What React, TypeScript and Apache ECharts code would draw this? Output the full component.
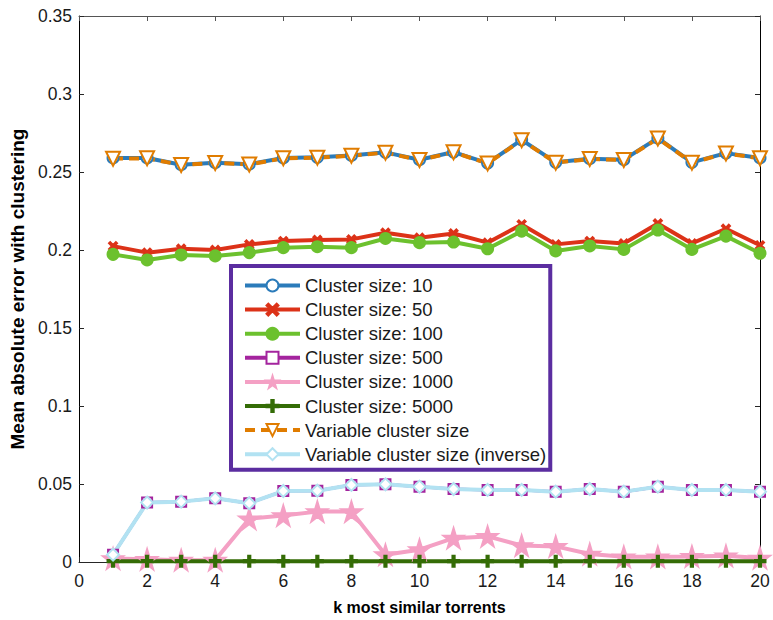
import React, { useEffect, useRef } from "react";
import * as echarts from "echarts";

// k values (x axis)
const kValues = [1, 2, 3, 4, 5, 6, 7, 8, 9, 10, 11, 12, 13, 14, 15, 16, 17, 18, 19, 20];

// Mean absolute error per cluster size
const size10 = [0.259, 0.259, 0.2547, 0.256, 0.255, 0.259, 0.2594, 0.2606, 0.2626, 0.2579, 0.2628, 0.2557, 0.2706, 0.2562, 0.2585, 0.2579, 0.2717, 0.2562, 0.2621, 0.259];
const size50 = [0.2025, 0.1983, 0.2008, 0.2, 0.2036, 0.2057, 0.2064, 0.2068, 0.2111, 0.2079, 0.2106, 0.2047, 0.2164, 0.2036, 0.2057, 0.2042, 0.217, 0.2042, 0.2136, 0.203];
const size100 = [0.1972, 0.1936, 0.1968, 0.1962, 0.1983, 0.2015, 0.2021, 0.2015, 0.2074, 0.2047, 0.2051, 0.2008, 0.2121, 0.1994, 0.2026, 0.2004, 0.2128, 0.2004, 0.2089, 0.1979];
const size500 = [0.0047, 0.0381, 0.0387, 0.0408, 0.0377, 0.0455, 0.0457, 0.0494, 0.0498, 0.0483, 0.0468, 0.0462, 0.0462, 0.0451, 0.0468, 0.0451, 0.0483, 0.0462, 0.0462, 0.0451];
const size1000 = [0.0022, 0.0018, 0.0012, 0.0012, 0.0277, 0.0298, 0.0323, 0.0323, 0.0047, 0.0079, 0.0153, 0.0164, 0.0106, 0.01, 0.0051, 0.0034, 0.0034, 0.0036, 0.004, 0.0026];
const size5000 = [0.0005, 0.0005, 0.0005, 0.0005, 0.0005, 0.0005, 0.0005, 0.0005, 0.0005, 0.0005, 0.0005, 0.0005, 0.0005, 0.0005, 0.0005, 0.0005, 0.0005, 0.0005, 0.0005, 0.0005];
const variableSize = [0.2585, 0.2588, 0.2545, 0.2558, 0.2548, 0.2588, 0.2592, 0.2604, 0.2624, 0.2577, 0.2626, 0.2555, 0.2704, 0.256, 0.2583, 0.2577, 0.2715, 0.256, 0.2619, 0.2588];
const variableInverse = [0.0047, 0.0381, 0.0387, 0.0408, 0.0377, 0.0455, 0.0457, 0.0494, 0.0498, 0.0483, 0.0468, 0.0462, 0.0462, 0.0451, 0.0468, 0.0451, 0.0483, 0.0462, 0.0462, 0.0451];

const seriesNames = [
  "Cluster size: 10",
  "Cluster size: 50",
  "Cluster size: 100",
  "Cluster size: 500",
  "Cluster size: 1000",
  "Cluster size: 5000",
  "Variable cluster size",
  "Variable cluster size (inverse)",
];

const X_PATH = "path://M0,1.5 L1.5,0 L5,3.5 L8.5,0 L10,1.5 L6.5,5 L10,8.5 L8.5,10 L5,6.5 L1.5,10 L0,8.5 L3.5,5 Z";
const PLUS_PATH = "path://M4,0 H6 V4 H10 V6 H6 V10 H4 V6 H0 V4 H4 Z";
const STAR_PATH = "path://M50,0 L61,35 L98,35 L68,57 L79,91 L50,70 L21,91 L32,57 L2,35 L39,35 Z";

const FONT = "'Liberation Sans', Arial, Helvetica, sans-serif";
const AXIS_COLOR = "#262626";

function pairs(values: number[]) {
  return values.map((v, i) => [kValues[i], v]);
}

export default function App() {
  const ref = useRef<HTMLDivElement>(null);

  useEffect(() => {
    if (!ref.current) return;
    const chart = echarts.init(ref.current, undefined, { renderer: "svg" });

    const line = (
      name: string,
      values: number[],
      color: string,
      symbol: string,
      symbolSize: number,
      extra: any = {}
    ) => ({
      name,
      type: "line",
      data: pairs(values),
      xAxisIndex: 0,
      yAxisIndex: 0,
      symbol,
      symbolSize,
      showAllSymbol: true,
      lineStyle: { color, width: 4, ...(extra.lineStyle || {}) },
      itemStyle: { color, borderColor: color, borderWidth: 2, ...(extra.itemStyle || {}) },
      emphasis: { disabled: true },
      ...(extra.rest || {}),
    });

    chart.setOption({
      animation: false,
      backgroundColor: "#fff",
      grid: { left: 74, top: 16, right: 13, bottom: 56 },
      legend: {
        data: seriesNames,
        orient: "vertical",
        left: 231,
        top: 266,
        padding: [10, 4, 6, 12],
        itemWidth: 55,
        itemHeight: 15,
        itemGap: 5.1,
        borderColor: "#5B2DA0",
        borderWidth: 4,
        borderRadius: 0,
        backgroundColor: "#fff",
        selectedMode: false,
        lineStyle: { width: 4 },
        textStyle: { fontFamily: FONT, fontSize: 18.5, lineHeight: 18, color: "#1a1a1a" },
      },
      xAxis: [
        {
          type: "value",
          min: 0,
          max: 20,
          interval: 2,
          name: "k most similar torrents",
          nameLocation: "middle",
          nameGap: 37,
          nameTextStyle: { fontFamily: FONT, fontSize: 16, fontWeight: "bold", color: "#000" },
          axisLine: { show: true, onZero: false, lineStyle: { color: AXIS_COLOR, width: 1 } },
          axisTick: { show: true, inside: true, length: 5, lineStyle: { color: AXIS_COLOR } },
          axisLabel: { fontFamily: FONT, fontSize: 17.5, color: "#1a1a1a", margin: 10 },
          splitLine: { show: false },
        },
        {
          type: "value",
          position: "top",
          min: 0,
          max: 20,
          interval: 2,
          axisLine: { show: true, onZero: false, lineStyle: { color: "#555", width: 1 } },
          axisTick: { show: true, inside: true, length: 5, lineStyle: { color: "#555" } },
          axisLabel: { show: false },
          splitLine: { show: false },
        },
      ],
      yAxis: [
        {
          type: "value",
          min: 0,
          max: 0.35,
          interval: 0.05,
          name: "Mean absolute error with clustering",
          nameLocation: "middle",
          nameGap: 52,
          nameTextStyle: { fontFamily: FONT, fontSize: 19, fontWeight: "bold", color: "#000" },
          axisLine: { show: true, onZero: false, lineStyle: { color: "#000", width: 1 } },
          axisTick: { show: true, inside: true, length: 5, lineStyle: { color: AXIS_COLOR } },
          axisLabel: {
            fontFamily: FONT,
            fontSize: 17.5,
            color: "#1a1a1a",
            margin: 7,
            formatter: (v: number) => (v === 0 ? "0" : String(parseFloat(v.toFixed(2)))),
          },
          splitLine: { show: false },
        },
        {
          type: "value",
          position: "right",
          min: 0,
          max: 0.35,
          interval: 0.05,
          axisLine: { show: true, onZero: false, lineStyle: { color: "#000", width: 1 } },
          axisTick: { show: true, inside: true, length: 5, lineStyle: { color: AXIS_COLOR } },
          axisLabel: { show: false },
          splitLine: { show: false },
        },
      ],
      series: [
        line(seriesNames[0], size10, "#2B7BBA", "emptyCircle", 11, {
          itemStyle: { borderWidth: 3 },
        }),
        line(seriesNames[1], size50, "#DC3218", X_PATH, 8),
        line(seriesNames[2], size100, "#6CC12E", "circle", 11),
        line(seriesNames[3], size500, "#A4249E", "emptyRect", 10, {
          itemStyle: { borderWidth: 2 },
          lineStyle: { width: 3 },
        }),
        line(seriesNames[4], size1000, "#F4A0C4", STAR_PATH, 20),
        line(seriesNames[5], size5000, "#346C06", PLUS_PATH, 11),
        line(seriesNames[6], variableSize, "#E07C00", "emptyTriangle", 14, {
          itemStyle: { borderWidth: 4 },
          lineStyle: { type: [10, 6] },
          rest: { symbolRotate: 180 },
        }),
        line(seriesNames[7], variableInverse, "#B2E2F2", "emptyDiamond", 12, {
          itemStyle: { borderWidth: 3 },
        }),
      ],
    });

    return () => chart.dispose();
  }, []);

  return <div ref={ref} style={{ width: 773, height: 620, position: "absolute", left: 0, top: 0 }} />;
}
